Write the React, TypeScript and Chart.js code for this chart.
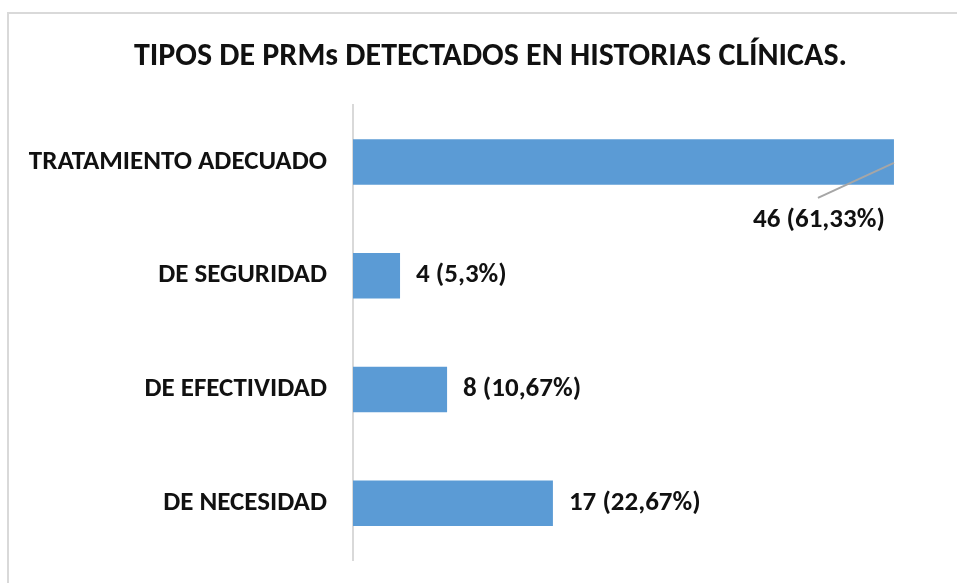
import React, { useEffect, useRef } from "react";
import { Chart, registerables } from "chart.js";

Chart.register(...registerables);

const categories = ["TRATAMIENTO ADECUADO", "DE SEGURIDAD", "DE EFECTIVIDAD", "DE NECESIDAD"];
const counts = [46, 4, 8, 17];
const valueLabels = ["46 (61,33%)", "4 (5,3%)", "8 (10,67%)", "17 (22,67%)"];
const titleText = "TIPOS DE PRMs DETECTADOS EN HISTORIAS CLÍNICAS.";
const axisMax = 50;

const FONT = "Carlito, Calibri, 'Liberation Sans Narrow', sans-serif";
const TEXT = "#111111";

const labelPlugin = {
  id: "valueLabels",
  afterLayout(chart: any) {
    // let the long category label use the space left of the axis box
    if (chart.scales.y) chart.scales.y.left = 0;
  },
  afterDatasetsDraw(chart: any) {
    const ctx = chart.ctx;
    const meta = chart.getDatasetMeta(0);
    ctx.save();
    ctx.font = `bold 27px ${FONT}`;
    ctx.fillStyle = TEXT;
    meta.data.forEach((bar: any, i: number) => {
      const txt = valueLabels[i];
      if (i === 0) {
        ctx.strokeStyle = "#a6a6a6";
        ctx.lineWidth = 2;
        ctx.beginPath();
        ctx.moveTo(bar.x, bar.y + 1);
        ctx.lineTo(bar.x - 76, bar.y + 36);
        ctx.stroke();
        ctx.textAlign = "center";
        ctx.textBaseline = "middle";
        ctx.fillText(txt, bar.x - 75, bar.y + 58);
      } else {
        ctx.textAlign = "left";
        ctx.textBaseline = "middle";
        ctx.fillText(txt, bar.x + 16, bar.y);
      }
    });
    ctx.restore();
  },
};

export default function App() {
  const ref = useRef<HTMLCanvasElement>(null);
  useEffect(() => {
    const chart = new Chart(ref.current!, {
      type: "bar",
      data: {
        labels: categories,
        datasets: [
          {
            data: counts,
            backgroundColor: "#5b9bd5",
            borderWidth: 0,
            categoryPercentage: 1,
            barPercentage: 0.4,
          },
        ],
      },
      options: {
        indexAxis: "y",
        responsive: false,
        animation: false,
        layout: { padding: { left: 40, right: 16, top: 0, bottom: 23 } },
        plugins: {
          legend: { display: false },
          tooltip: { enabled: false },
          title: {
            display: true,
            text: titleText,
            color: TEXT,
            font: { family: FONT, size: 32, weight: "bold", lineHeight: 1.2 },
            padding: { top: 38, bottom: 28.6 },
          },
        },
        scales: {
          x: { display: false, min: 0, max: axisMax },
          y: {
            grid: { display: false, drawTicks: false },
            border: { display: true, color: "#d9d9d9", width: 2 },
            ticks: {
              color: TEXT,
              padding: 26,
              font: { family: FONT, size: 27, weight: "bold" },
            },
            afterFit(scale: any) {
              scale.width = 313;
              scale.paddingTop = 0;
              scale.paddingBottom = 0;
            },
          },
        },
      },
      plugins: [labelPlugin],
    });
    return () => chart.destroy();
  }, []);
  return (
    <div style={{ position: "absolute", left: 0, top: 0, width: 957, height: 583, overflow: "hidden", background: "#fff" }}>
      <div
        style={{
          position: "absolute",
          left: 7,
          top: 12,
          width: 2000,
          height: 2000,
          borderTop: "2px solid #d9d9d9",
          borderLeft: "2px solid #d9d9d9",
        }}
      />
      <canvas ref={ref} width={957} height={583} style={{ position: "absolute", left: 0, top: 0 }} />
    </div>
  );
}
